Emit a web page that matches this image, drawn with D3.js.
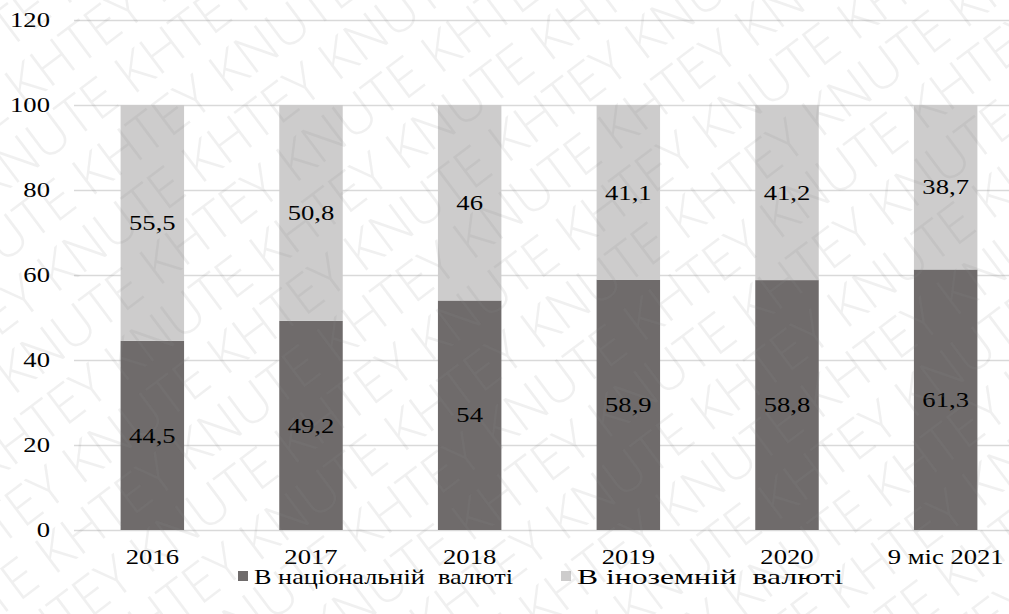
<!DOCTYPE html>
<html>
<head>
<meta charset="utf-8">
<script src="https://cdn.jsdelivr.net/npm/d3@7"></script>
<style>
  html, body { margin: 0; padding: 0; background: #fff; }
  svg { display: block; }
</style>
</head>
<body>
<svg id="chart" width="1009" height="614"></svg>
<script>
// Share of deposits by currency, %
const categories = ["2016", "2017", "2018", "2019", "2020", "9 міс 2021"];
const national = [44.5, 49.2, 54, 58.9, 58.8, 61.3];
const foreign = [55.5, 50.8, 46, 41.1, 41.2, 38.7];
const seriesNames = ["В національній  валюті", "В іноземній  валюті"];
const yTicks = [0, 20, 40, 60, 80, 100, 120];

const colors = ["#6f6b6b", "#cdcccc"];
const W = 1009, H = 614;
const SX = 1.3;          // horizontal stretch of the serif lettering
const svg = d3.select("#chart");

// places a horizontally stretched label at (x, y)
function label(g, x, y, txt, anchor, dy) {
  return g.append("text")
    .attr("transform", `translate(${x},${y}) scale(${SX},1)`)
    .attr("text-anchor", anchor || "start")
    .attr("dy", dy || 0)
    .style("font-family", '"Liberation Serif"')
    .style("font-size", "20.5px")
    .style("fill", "#000")
    .style("white-space", "pre")
    .text(txt);
}

const x = d3.scaleBand()
  .domain(categories)
  .range([73, 1025])
  .paddingInner(0.6)
  .paddingOuter(0.3);

const y = d3.scaleLinear().domain([0, 120]).range([530, 20]);

// gridlines
svg.append("g")
  .selectAll("line")
  .data(yTicks)
  .join("line")
  .attr("x1", 74).attr("x2", W)
  .attr("y1", d => Math.round(y(d)) + 0.5)
  .attr("y2", d => Math.round(y(d)) + 0.5)
  .attr("stroke", "#d9d9d9")
  .attr("stroke-width", 1.3);

// y axis labels
const yg = svg.append("g");
yTicks.forEach(t => label(yg, 50, y(t), String(t), "end", "0.34em"));

// stacked bars
const rows = categories.map((c, i) => ({ cat: c, national: national[i], foreign: foreign[i] }));
const stack = d3.stack().keys(["national", "foreign"]);
const layers = stack(rows);

const barG = svg.append("g");
layers.forEach((layer, li) => {
  barG.append("g")
    .selectAll("rect")
    .data(layer)
    .join("rect")
    .attr("x", d => x(d.data.cat))
    .attr("width", x.bandwidth())
    .attr("y", d => y(d[1]))
    .attr("height", d => y(d[0]) - y(d[1]))
    .attr("fill", colors[li]);
});

// value labels
const fmt = v => String(v).replace(".", ",");
const vg = svg.append("g");
layers.forEach(layer => {
  layer.forEach(d => {
    label(vg, x(d.data.cat) + x.bandwidth() / 2, y((d[0] + d[1]) / 2),
      fmt(d.data[layer.key]), "middle", "0.35em");
  });
});

// x axis labels
const xg = svg.append("g");
categories.forEach(c => label(xg, x(c) + x.bandwidth() / 2, 564, c, "middle"));

// legend: each entry is fitted to its own slot width
const legendX = [238, 561];
const legendSpan = [259, 266];
const lg = svg.append("g");
seriesNames.forEach((name, i) => {
  lg.append("rect")
    .attr("x", legendX[i]).attr("y", 571)
    .attr("width", 10).attr("height", 10)
    .attr("fill", colors[i]);
  label(lg, legendX[i] + 16, 584, name, "start")
    .attr("textLength", legendSpan[i] / SX)
    .attr("lengthAdjust", "spacingAndGlyphs");
});

// diagonal watermark
const wm = svg.append("g")
  .attr("transform", "translate(504,307) rotate(-37)")
  .attr("pointer-events", "none");
const wmRow = d3.range(12).map(k => (k % 2 ? "KHTEY" : "KNUTE")).join(" ");
d3.range(-12, 13).forEach(r => {
  wm.append("text")
    .attr("x", -1150 + (r % 2 ? 95 : 0))
    .attr("y", r * 56)
    .style("font-family", '"Open Sans"')
    .style("font-weight", 300)
    .style("font-size", "54px")
    .style("fill", "#8a8a8a")
    .style("fill-opacity", 0.13)
    .style("white-space", "pre")
    .text(wmRow);
});
</script>
</body>
</html>
